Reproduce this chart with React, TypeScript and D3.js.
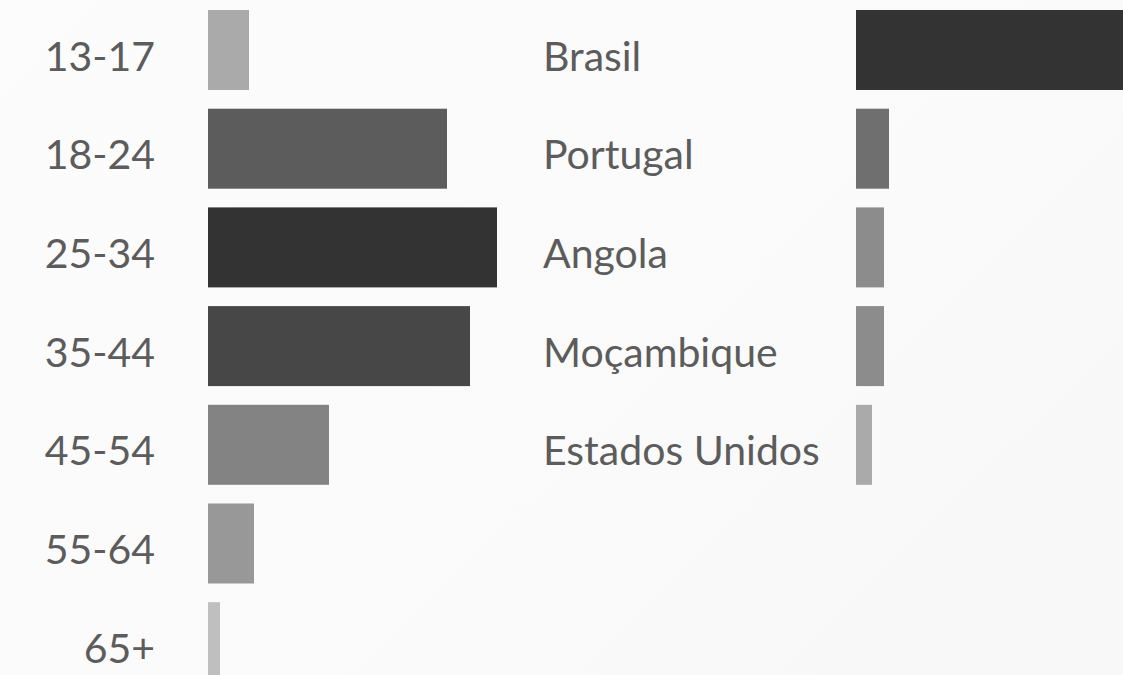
import React from "react";
import * as d3 from "d3";

const ageGroups = ["13-17", "18-24", "25-34", "35-44", "45-54", "55-64", "65+"];
const ageShare = [4.1, 23.9, 28.9, 26.2, 12.1, 4.6, 1.2];

const countries = ["Brasil", "Portugal", "Angola", "Moçambique", "Estados Unidos"];
const countryShare = [85.0, 3.3, 2.8, 2.8, 1.6];

const agePalette = ["#aaaaaa", "#5c5c5c", "#333333", "#474747", "#838383", "#989898", "#bfbfbf"];
const countryPalette = ["#333333", "#6f6f6f", "#8c8c8c", "#8c8c8c", "#aaaaaa"];

const W = 1123;
const H = 675;
const STEP = 98.7;
const GAP = 18.7;
const PX_PER_PCT = 10;

export default function App() {
  const ageY = d3
    .scaleBand<string>()
    .domain(ageGroups)
    .range([10, 10 + ageGroups.length * STEP - GAP])
    .paddingInner(GAP / STEP)
    .paddingOuter(0);
  const ageX = d3.scaleLinear().domain([0, 100]).range([208, 208 + 100 * PX_PER_PCT]);
  const ageColor = d3.scaleOrdinal<string, string>().domain(ageGroups).range(agePalette);

  const cY = d3
    .scaleBand<string>()
    .domain(countries)
    .range([10, 10 + countries.length * STEP - GAP])
    .paddingInner(GAP / STEP)
    .paddingOuter(0);
  const cX = d3.scaleLinear().domain([0, 100]).range([856, 856 + 100 * PX_PER_PCT]);
  const cColor = d3.scaleOrdinal<string, string>().domain(countries).range(countryPalette);

  const font = "Lato, 'Open Sans', sans-serif";
  const textColor = "#5c5c5c";
  const fs = 41;

  return (
    <svg
      width={W}
      height={H}
      style={{ position: "absolute", left: 0, top: 0, display: "block" }}
      fontFamily={font}
    >
      <defs>
        <linearGradient id="bgGrad" x1="0" y1="0" x2="1" y2="0.6">
          <stop offset="0" stopColor="#fcfcfc" />
          <stop offset="0.7" stopColor="#fafafa" />
          <stop offset="1" stopColor="#f8f8f8" />
        </linearGradient>
      </defs>
      <rect x={0} y={0} width={W} height={H} fill="url(#bgGrad)" />

      {ageGroups.map((g, i) => (
        <rect
          key={g}
          x={ageX(0)}
          y={ageY(g)!}
          width={ageX(ageShare[i]) - ageX(0)}
          height={ageY.bandwidth()}
          fill={ageColor(g)}
        />
      ))}
      {ageGroups.map((g) => (
        <text
          key={"l" + g}
          x={155}
          y={ageY(g)! + ageY.bandwidth() / 2 + 5}
          textAnchor="end"
          dominantBaseline="central"
          fontSize={fs}
          fill={textColor}
        >
          {g}
        </text>
      ))}

      {countries.map((c, i) => (
        <rect
          key={c}
          x={cX(0)}
          y={cY(c)!}
          width={cX(countryShare[i]) - cX(0)}
          height={cY.bandwidth()}
          fill={cColor(c)}
        />
      ))}
      {countries.map((c) => (
        <text
          key={"l" + c}
          x={543}
          y={cY(c)! + cY.bandwidth() / 2 + 5}
          textAnchor="start"
          dominantBaseline="central"
          fontSize={fs}
          fill={textColor}
        >
          {c}
        </text>
      ))}
    </svg>
  );
}
